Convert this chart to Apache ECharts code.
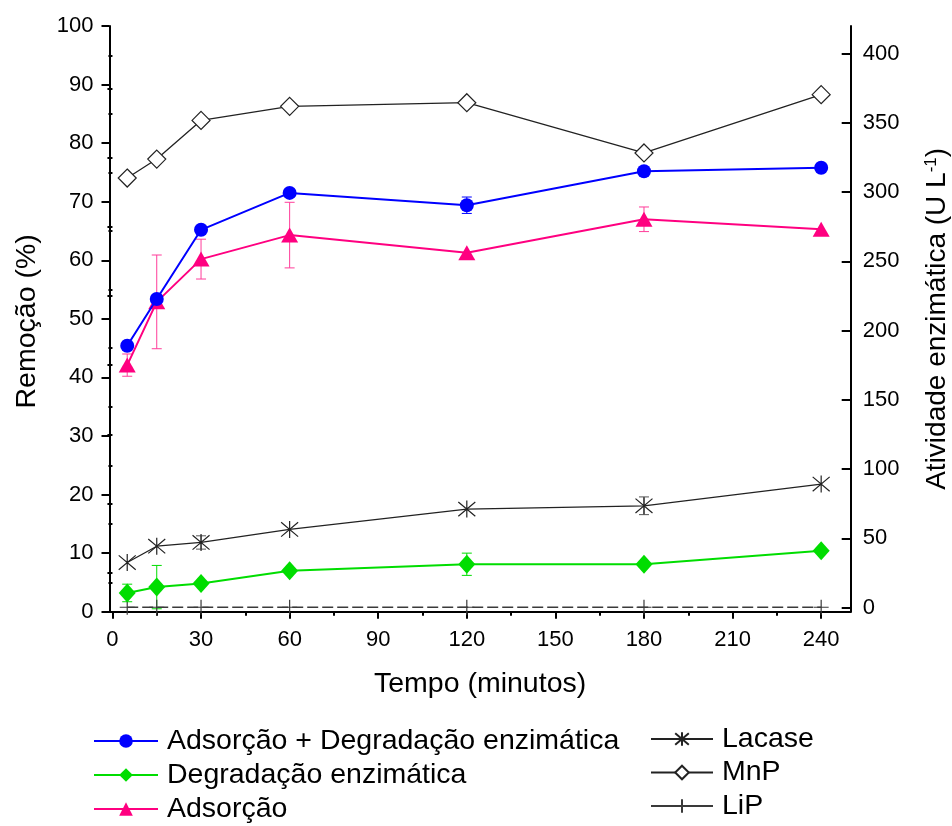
<!DOCTYPE html>
<html>
<head>
<meta charset="utf-8">
<script src="https://cdn.jsdelivr.net/npm/echarts@6/dist/echarts.min.js"></script>
<style>
  html, body { margin: 0; padding: 0; background: #ffffff; }
  #chart { width: 952px; height: 826px; }
</style>
</head>
<body>
<div id="chart"></div>
<script>
// Sampling times (minutes)
const tempo = [5, 15, 30, 60, 120, 180, 240];

// Removal (%) — left axis
const adsDeg     = [45.4, 53.4, 65.2, 71.5, 69.4, 75.2, 75.8];
const adsDegErr  = [0, 0, 0, 0, 1.4, 0, 0];
const degEnz     = [3.2, 4.2, 4.8, 7.0, 8.1, 8.1, 10.4];
const degEnzErr  = [1.5, 3.7, 0, 0, 1.9, 0, 0];
const ads        = [42.1, 52.9, 60.2, 64.3, 61.3, 67.0, 65.3];
const adsErr     = [1.9, 8.0, 3.4, 5.6, 0, 2.1, 0];

// Enzyme activity (U L-1) — right axis
const lacase     = [32.5, 44.3, 47.0, 56.4, 71.1, 73.5, 89.2];
const lacaseErr  = [0, 0, 4.8, 0, 0, 6.4, 0];
const mnp        = [310.2, 323.9, 351.8, 362.0, 364.6, 328.3, 370.4];
const lip        = [0.2, 0.2, 0.2, 0.2, 0.2, 0.2, 0.2];

// Tick positions
const xTicks          = [0, 30, 60, 90, 120, 150, 180, 210, 240];
const xMinorTicks     = [15, 45, 75, 105, 135, 165, 195, 225];
const leftMinorTicks  = [5, 15, 25, 35, 45, 55, 65, 75, 85, 95];
const rightTicks      = [0, 50, 100, 150, 200, 250, 300, 350, 400];
const rightMinorTicks = [25, 75, 125, 175, 225, 275, 325, 375];

const FONT = "'Liberation Sans', Arial, sans-serif";
const TITLE_SIZE = 28.5;

const pairs = ys => tempo.map((t, i) => [t, ys[i]]);
const errRows = (ys, errs) => tempo
  .map((t, i) => [t, ys[i] - errs[i], ys[i] + errs[i], errs[i]])
  .filter(r => r[3] > 0);

function errorBars(yAxisIndex, rows, color, width) {
  return {
    type: 'custom',
    xAxisIndex: 0,
    yAxisIndex: yAxisIndex,
    data: rows,
    encode: { x: 0, y: [1, 2] },
    silent: true,
    z: 1,
    renderItem(params, api) {
      const x = api.value(0);
      const top = api.coord([x, api.value(2)]);
      const bot = api.coord([x, api.value(1)]);
      const h = 5;
      const st = { stroke: color, lineWidth: width };
      return {
        type: 'group',
        children: [
          { type: 'line', shape: { x1: top[0], y1: top[1], x2: bot[0], y2: bot[1] }, style: st },
          { type: 'line', shape: { x1: top[0] - h, y1: top[1], x2: top[0] + h, y2: top[1] }, style: st },
          { type: 'line', shape: { x1: bot[0] - h, y1: bot[1], x2: bot[0] + h, y2: bot[1] }, style: st }
        ]
      };
    }
  };
}

const asterisk = 'path://M0,0 L16,16 M0,16 L16,0 M8,-1.5 L8,17.5';
const plus = 'path://M0,8 L16,8 M8,0 L8,16';

const chart = echarts.init(document.getElementById('chart'), null, { renderer: 'canvas' });

const axisLabelBase = { color: '#000', fontSize: 22, fontFamily: FONT };
const tickStyle = { color: '#000', width: 2 };

chart.setOption({
  animation: false,
  backgroundColor: '#ffffff',
  textStyle: { fontFamily: FONT },
  grid: {
    left: 109.5, right: 101.3, top: 26, bottom: 214.3,
    containLabel: false, outerBoundsMode: 'none'
  },
  xAxis: [
    {
      type: 'value', min: -1, max: 250, position: 'bottom',
      name: 'Tempo (minutos)', nameLocation: 'middle', nameGap: 58,
      nameTextStyle: { color: '#000', fontSize: TITLE_SIZE, fontFamily: FONT },
      axisLine: { show: true, onZero: false, lineStyle: tickStyle },
      axisTick: { show: true, customValues: xTicks, length: 7, lineStyle: tickStyle },
      axisLabel: Object.assign({ customValues: xTicks, margin: 17 }, axisLabelBase),
      splitLine: { show: false }
    },
    {
      type: 'value', min: -1, max: 250, position: 'bottom',
      axisLine: { show: false },
      axisTick: { show: true, customValues: xMinorTicks, length: 4, lineStyle: tickStyle },
      axisLabel: { show: false },
      splitLine: { show: false }
    }
  ],
  yAxis: [
    {
      type: 'value', min: 0, max: 100, interval: 10, position: 'left',
      name: 'Remoção (%)', nameLocation: 'middle', nameGap: 68, nameRotate: 90,
      nameTextStyle: { color: '#000', fontSize: TITLE_SIZE, fontFamily: FONT, padding: [0, 5, 0, 0] },
      axisLine: { show: true, onZero: false, lineStyle: tickStyle },
      axisTick: { show: true, length: 8, lineStyle: tickStyle },
      axisLabel: Object.assign({ margin: 16 }, axisLabelBase),
      splitLine: { show: false }
    },
    {
      type: 'value', min: -3, max: 420, position: 'right',
      name: 'Atividade enzimática (U L{sup|-1})', nameLocation: 'middle', nameGap: 72, nameRotate: 90,
      nameTextStyle: {
        color: '#000', fontSize: 28, fontFamily: FONT,
        rich: { sup: { color: '#000', fontSize: 17, fontFamily: FONT, verticalAlign: 'top', lineHeight: 30 } }
      },
      axisLine: { show: true, onZero: false, lineStyle: tickStyle },
      axisTick: { show: true, inside: true, customValues: rightTicks, length: 9, lineStyle: tickStyle },
      axisLabel: Object.assign({ customValues: rightTicks, margin: 12 }, axisLabelBase),
      splitLine: { show: false }
    },
    {
      type: 'value', min: -3, max: 420, position: 'right',
      axisLine: { show: false },
      axisTick: { show: true, inside: true, customValues: rightMinorTicks, length: 5, lineStyle: tickStyle },
      axisLabel: { show: false },
      splitLine: { show: false }
    },
    {
      type: 'value', min: 0, max: 100, position: 'left',
      axisLine: { show: false },
      axisTick: { show: true, customValues: leftMinorTicks, length: 4, lineStyle: tickStyle },
      axisLabel: { show: false },
      splitLine: { show: false }
    }
  ],
  legend: [
    {
      orient: 'vertical', left: 93, top: 726, height: 140, padding: 0,
      itemWidth: 64, itemHeight: 17, itemGap: 4,
      textStyle: { color: '#000', fontSize: TITLE_SIZE, fontFamily: FONT, lineHeight: 30, padding: [0, 0, 0, 4] },
      data: ['Adsorção + Degradação enzimática', 'Degradação enzimática', 'Adsorção']
    },
    {
      orient: 'vertical', left: 650, top: 724, height: 140, padding: 0,
      itemWidth: 62, itemHeight: 17, itemGap: 3.5,
      textStyle: { color: '#000', fontSize: TITLE_SIZE, fontFamily: FONT, lineHeight: 30, padding: [0, 0, 0, 4] },
      data: ['Lacase', 'MnP', { name: 'LiP', lineStyle: { type: 'solid' } }]
    }
  ],
  series: [
    errorBars(0, errRows(ads, adsErr), '#ff3d9a', 1),
    errorBars(0, errRows(adsDeg, adsDegErr), '#0000ff', 1),
    errorBars(0, errRows(degEnz, degEnzErr), '#00dd00', 1),
    errorBars(1, errRows(lacase, lacaseErr), '#555555', 1),
    {
      name: 'LiP', type: 'line', xAxisIndex: 0, yAxisIndex: 1, data: pairs(lip),
      symbol: plus, symbolSize: 15, z: 2,
      lineStyle: { color: '#3a3a3a', width: 1.6, type: [11, 4] },
      itemStyle: { color: 'none', borderColor: '#3a3a3a', borderWidth: 1.2 }
    },
    {
      name: 'Lacase', type: 'line', xAxisIndex: 0, yAxisIndex: 1, data: pairs(lacase),
      symbol: asterisk, symbolSize: 17, z: 3,
      lineStyle: { color: '#222', width: 1.3 },
      itemStyle: { color: 'none', borderColor: '#222', borderWidth: 1.2 }
    },
    {
      name: 'MnP', type: 'line', xAxisIndex: 0, yAxisIndex: 1, data: pairs(mnp),
      symbol: 'diamond', symbolSize: [18, 18], z: 3,
      lineStyle: { color: '#222', width: 1.3 },
      itemStyle: { color: '#ffffff', borderColor: '#222', borderWidth: 1.2 }
    },
    {
      name: 'Degradação enzimática', type: 'line', xAxisIndex: 0, yAxisIndex: 0, data: pairs(degEnz),
      symbol: 'diamond', symbolSize: [17, 19], z: 4,
      lineStyle: { color: '#00dd00', width: 2 },
      itemStyle: { color: '#00dd00' }
    },
    {
      name: 'Adsorção', type: 'line', xAxisIndex: 0, yAxisIndex: 0, data: pairs(ads),
      symbol: 'triangle', symbolSize: [17, 15], z: 4,
      lineStyle: { color: '#ff0080', width: 2 },
      itemStyle: { color: '#ff0080' }
    },
    {
      name: 'Adsorção + Degradação enzimática', type: 'line', xAxisIndex: 0, yAxisIndex: 0, data: pairs(adsDeg),
      symbol: 'circle', symbolSize: 14, z: 5,
      lineStyle: { color: '#0000ff', width: 2 },
      itemStyle: { color: '#0000ff' }
    }
  ]
});
</script>
</body>
</html>
